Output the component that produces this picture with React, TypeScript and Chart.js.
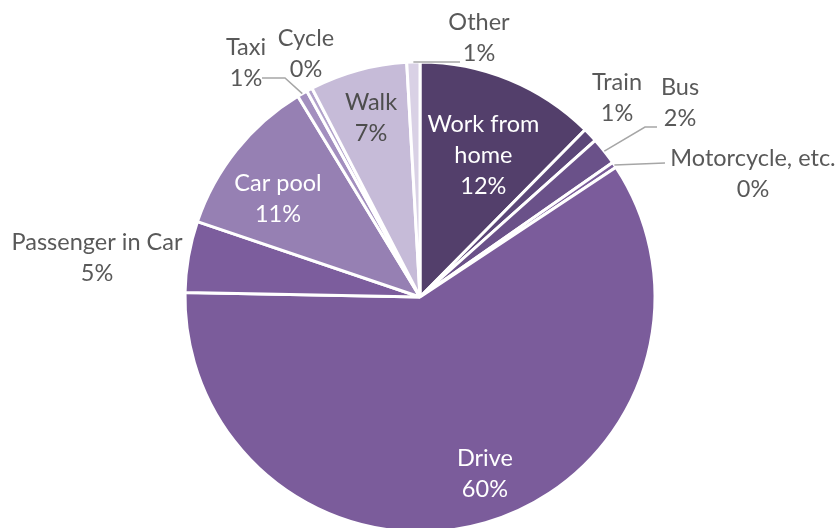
import React, { useEffect, useRef } from "react";
import { Chart, registerables } from "chart.js";

Chart.register(...registerables);

const CATEGORIES = [
  "Work from\nhome",
  "Train",
  "Bus",
  "Motorcycle, etc.",
  "Drive",
  "Passenger in Car",
  "Car pool",
  "Taxi",
  "Cycle",
  "Walk",
  "Other",
];
const SHARES = [12.4, 1.0, 1.9, 0.4, 59.6, 4.9, 11.1, 0.7, 0.4, 6.7, 0.9];
const COLORS = [
  "#533f6b",
  "#5c4779",
  "#6a5189",
  "#7a5d9a",
  "#7b5c9b",
  "#7c5d9d",
  "#9680b3",
  "#a38fbf",
  "#b2a2cb",
  "#c6bbd8",
  "#d9d1e5",
];

// Label placement (text only): inside labels use radial fraction + angle tweak,
// outside labels use offsets from the pie centre and optional leader elbows.
type LabelCfg =
  | { mode: "in"; frac: number; dAng: number; color: string }
  | { mode: "out"; dx: number; dy: number; leader?: number[][] };

const LABEL_LAYOUT: LabelCfg[] = [
  { mode: "in", frac: 0.66, dAng: 1.8, color: "#ffffff" },
  { mode: "out", dx: 197, dy: -215 },
  { mode: "out", dx: 260, dy: -210, leader: [[237, -170], [225, -170]] },
  { mode: "out", dx: 333, dy: -139, leader: [[245, -134]] },
  { mode: "in", frac: 0.8, dAng: -4, color: "#ffffff" },
  { mode: "out", dx: -323, dy: -55 },
  { mode: "in", frac: 0.735, dAng: -4, color: "#ffffff" },
  { mode: "out", dx: -174, dy: -250, leader: [[-158, -219], [-135, -219]] },
  { mode: "out", dx: -114, dy: -259 },
  { mode: "in", frac: 0.79, dAng: 0, color: "#4d4d4d" },
  { mode: "out", dx: 59, dy: -275, leader: [[40, -235]] },
];

const FONT = "23.5px Lato";
const LINE_H = 31;
const OUT_COLOR = "#595959";
const LEADER_COLOR = "#a6a6a6";

const labelPlugin = {
  id: "pieLabels",
  afterDatasetsDraw(chart: any) {
    const ctx = chart.ctx as CanvasRenderingContext2D;
    const meta = chart.getDatasetMeta(0);
    const data = chart.data.datasets[0].data as number[];
    const labels = chart.data.labels as string[];
    ctx.save();
    ctx.font = FONT;
    ctx.textAlign = "center";
    ctx.textBaseline = "middle";
    meta.data.forEach((arc: any, i: number) => {
      const { x, y, startAngle, endAngle, outerRadius } = arc.getProps(
        ["x", "y", "startAngle", "endAngle", "outerRadius"],
        true
      );
      const mid = (startAngle + endAngle) / 2;
      const lines = [...labels[i].split("\n"), Math.round(data[i]) + "%"];
      const cfg = LABEL_LAYOUT[i];
      let cx: number, cy: number;
      if (cfg.mode === "in") {
        const a = mid + (cfg.dAng * Math.PI) / 180;
        const r = outerRadius * cfg.frac;
        cx = x + Math.cos(a) * r;
        cy = y + Math.sin(a) * r - ((lines.length - 1) * LINE_H) / 2;
        ctx.fillStyle = cfg.color;
      } else {
        cx = x + cfg.dx;
        cy = y + cfg.dy;
        ctx.fillStyle = OUT_COLOR;
        if (cfg.leader) {
          ctx.beginPath();
          ctx.strokeStyle = LEADER_COLOR;
          ctx.lineWidth = 1.5;
          cfg.leader.forEach((p, k) => {
            if (k === 0) ctx.moveTo(x + p[0], y + p[1]);
            else ctx.lineTo(x + p[0], y + p[1]);
          });
          ctx.lineTo(x + Math.cos(mid) * outerRadius, y + Math.sin(mid) * outerRadius);
          ctx.stroke();
        }
      }
      lines.forEach((t, k) => ctx.fillText(t, cx, cy + k * LINE_H));
    });
    ctx.restore();
  },
};

export default function App() {
  const ref = useRef<HTMLCanvasElement>(null);
  useEffect(() => {
    document.body.style.margin = "0";
    const chart = new Chart(ref.current!, {
      type: "pie",
      data: {
        labels: CATEGORIES,
        datasets: [
          {
            data: SHARES,
            backgroundColor: COLORS,
            borderColor: "#ffffff",
            borderWidth: 3,
            radius: 235,
          } as any,
        ],
      },
      options: {
        responsive: false,
        animation: false,
        layout: { padding: 0 },
        plugins: { legend: { display: false }, tooltip: { enabled: false } },
      },
      plugins: [labelPlugin],
    });
    return () => chart.destroy();
  }, []);
  return (
    <div style={{ position: "absolute", left: 0, top: 0, width: 840, height: 528, overflow: "hidden", background: "#fff" }}>
      <canvas ref={ref} width={840} height={594} style={{ width: 840, height: 594 }} />
    </div>
  );
}
